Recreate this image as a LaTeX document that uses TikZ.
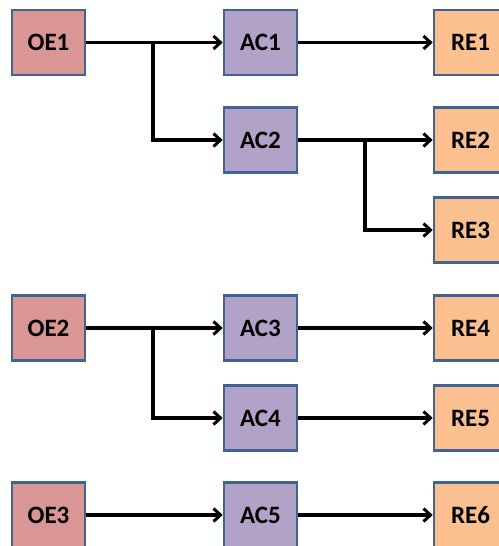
\documentclass[tikz,border=0pt]{standalone}
\usepackage{fontspec}
\setmainfont{Carlito}
\usetikzlibrary{arrows.meta}
\definecolor{oefill}{HTML}{D99694}
\definecolor{acfill}{HTML}{B3A2C7}
\definecolor{refill}{HTML}{FAC090}
\definecolor{boxline}{HTML}{3F6493}
\begin{document}
\begin{tikzpicture}[x=1pt,y=-1pt,
  box/.style={draw=boxline,line width=2.6pt,minimum width=73pt,minimum height=65pt,inner sep=0pt,
    font=\fontsize{25}{28}\selectfont\bfseries},
  oebox/.style={box,fill=oefill},
  acbox/.style={box,fill=acfill},
  rebox/.style={box,fill=refill},
  conn/.style={line width=3.4pt,-{Straight Barb[length=7pt,width=13pt,line width=3pt]}}]
\useasboundingbox (0,0) rectangle (498,546);
% rows
\node[oebox] (oe1) at (48.5,42.5) {OE1};
\node[acbox] (ac1) at (260.5,42.5) {AC1};
\node[rebox] (re1) at (470.5,42.5) {RE1};
\node[acbox] (ac2) at (260.5,140) {AC2};
\node[rebox] (re2) at (470.5,140) {RE2};
\node[rebox] (re3) at (470.5,230) {RE3};
\node[oebox] (oe2) at (48.5,328) {OE2};
\node[acbox] (ac3) at (260.5,328) {AC3};
\node[rebox] (re4) at (470.5,328) {RE4};
\node[acbox] (ac4) at (260.5,418) {AC4};
\node[rebox] (re5) at (470.5,418) {RE5};
\node[oebox] (oe3) at (48.5,515) {OE3};
\node[acbox] (ac5) at (260.5,515) {AC5};
\node[rebox] (re6) at (470.5,515) {RE6};
% connectors
\draw[conn] (oe1) -- (ac1);
\draw[conn] (oe1.east) -| (153,60) |- (ac2.west);
\draw[conn] (ac1) -- (re1);
\draw[conn] (ac2) -- (re2);
\draw[conn] (ac2.east) -| (365,200) |- (re3.west);
\draw[conn] (oe2) -- (ac3);
\draw[conn] (oe2.east) -| (153,360) |- (ac4.west);
\draw[conn] (ac3) -- (re4);
\draw[conn] (ac4) -- (re5);
\draw[conn] (oe3) -- (ac5);
\draw[conn] (ac5) -- (re6);
\end{tikzpicture}
\end{document}
